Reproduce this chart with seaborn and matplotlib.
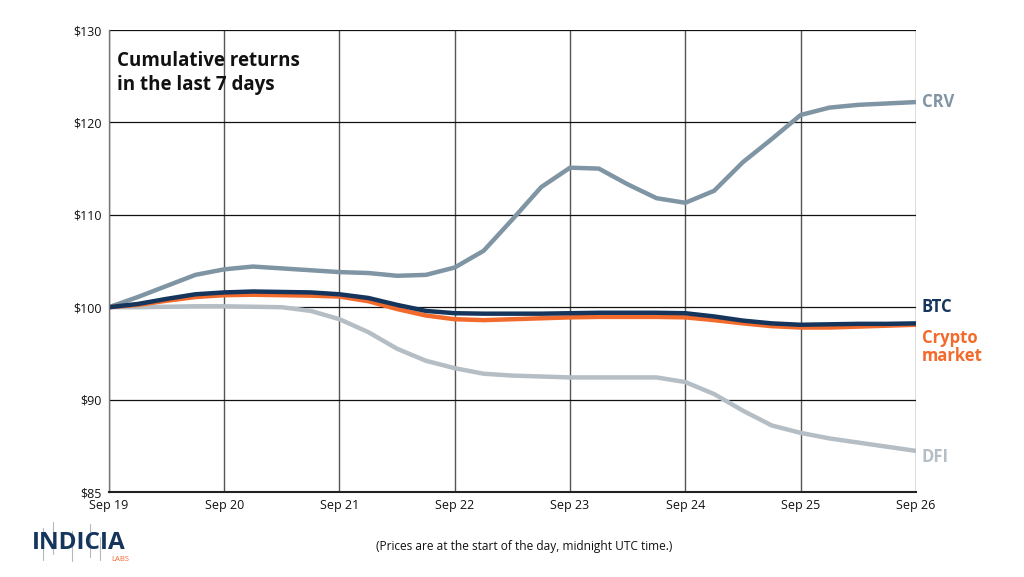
import numpy as np
import pandas as pd
import seaborn as sns
import matplotlib
import matplotlib.pyplot as plt
from matplotlib.lines import Line2D
matplotlib.use('Agg')

sns.set_theme(style="whitegrid")
plt.rcParams['font.family'] = ['Open Sans', 'DejaVu Sans']

# days since Sep 19, read every quarter day off the chart
days = [0, 0.25, 0.5, 0.75, 1, 1.25, 1.5, 1.75, 2, 2.25, 2.5, 2.75, 3, 3.25, 3.5, 3.75,
        4, 4.25, 4.5, 4.75, 5, 5.25, 5.5, 5.75, 6, 6.25, 6.5, 6.75, 7]
day_labels = ['Sep 19', 'Sep 20', 'Sep 21', 'Sep 22', 'Sep 23', 'Sep 24', 'Sep 25', 'Sep 26']
crv = [100.0, 101.1, 102.3, 103.5, 104.1, 104.4, 104.2, 104.0, 103.8, 103.7, 103.4, 103.5, 104.3, 106.1, 109.5, 113.0,
       115.1, 115.0, 113.3, 111.8, 111.3, 112.6, 115.7, 118.2, 120.8, 121.6, 121.9, 122.05, 122.2]
btc = [100.0, 100.35, 100.9, 101.4, 101.6, 101.7, 101.65, 101.6, 101.4, 101.0, 100.25, 99.6, 99.35, 99.3, 99.3, 99.3,
       99.35, 99.4, 99.4, 99.4, 99.35, 99.0, 98.55, 98.25, 98.1, 98.15, 98.2, 98.2, 98.25]
crypto = [100.0, 100.25, 100.7, 101.1, 101.3, 101.35, 101.3, 101.25, 101.15, 100.65, 99.8, 99.1, 98.7, 98.6, 98.7, 98.8,
          98.9, 98.95, 98.95, 98.95, 98.9, 98.6, 98.25, 97.95, 97.8, 97.8, 97.9, 98.0, 98.1]
dfi = [100.0, 100.0, 100.05, 100.1, 100.1, 100.05, 100.0, 99.6, 98.7, 97.3, 95.5, 94.2, 93.4, 92.8, 92.6, 92.5,
       92.4, 92.4, 92.4, 92.4, 91.9, 90.6, 88.8, 87.2, 86.4, 85.8, 85.35, 84.9, 84.45]
y_ticks = [80, 90, 100, 110, 120, 130]
y_labels = ['$85', '$90', '$100', '$110', '$120', '$130']

n = len(days)
df = pd.DataFrame({'day': days * 4,
                   'value': crv + dfi + crypto + btc,
                   'asset': ['CRV'] * n + ['DFI'] * n + ['Crypto'] * n + ['BTC'] * n})
palette = {'CRV': '#8095a3', 'DFI': '#b5bec4', 'Crypto': '#f26a2c', 'BTC': '#15355c'}

fig = plt.figure(figsize=(10.24, 5.77), dpi=100)
ax = fig.add_axes([0.1064, 0.1473, 0.788, 0.8007])
sns.lineplot(data=df, x='day', y='value', hue='asset', palette=palette, linewidth=3.2,
             legend=False, ax=ax, solid_capstyle='round', solid_joinstyle='round', sort=False)

ax.set_xlim(0, 7)
ax.set_ylim(80, 130)
ax.set_xticks(range(8))
ax.set_xticklabels(day_labels, fontsize=9)
ax.set_yticks(y_ticks)
ax.set_yticklabels(y_labels, fontsize=9)
ax.set_xlabel('')
ax.set_ylabel('')
ax.tick_params(length=0, pad=5, colors='#111111')
ax.grid(axis='y', color='#111111', linewidth=0.9)
ax.grid(axis='x', color='#555555', linewidth=1.0)
ax.set_axisbelow(True)
for side in ['top', 'right']:
    ax.spines[side].set_visible(False)
ax.spines['left'].set_color('#777777')
ax.spines['left'].set_linewidth(1.0)
ax.spines['bottom'].set_color('#222222')
ax.spines['bottom'].set_linewidth(1.5)

ax.text(0.07, 127.7, 'Cumulative returns\nin the last 7 days', fontsize=13.5, fontweight='bold',
        va='top', ha='left', linespacing=1.25, color='#111111')

ax.text(7.05, crv[-1], 'CRV', color='#8095a3', fontsize=12, fontweight='bold', va='center')
ax.text(7.05, btc[-1] + 1.8, 'BTC', color='#15355c', fontsize=12, fontweight='bold', va='center')
ax.text(7.05, crypto[-1] - 2.4, 'Crypto\nmarket', color='#f26a2c', fontsize=12, fontweight='bold',
        va='center', linespacing=1.0)
ax.text(7.05, dfi[-1] - 0.7, 'DFI', color='#b5bec4', fontsize=12, fontweight='bold', va='center')

fig.text(0.6562, 0.052, '(Prices are at the start of the day, midnight UTC time.)', fontsize=8.6,
         ha='right', va='center', color='#111111', fontstretch='semi-condensed')

# logo
for lx, y0, y1 in [(0.042, 0.030, 0.085), (0.052, 0.040, 0.095), (0.070, 0.028, 0.080),
                   (0.088, 0.035, 0.092), (0.098, 0.030, 0.070)]:
    fig.add_artist(Line2D([lx, lx], [y0, y1], transform=fig.transFigure, color='#b0b8c0', linewidth=0.8))
fig.text(0.031, 0.059, 'INDICIA', fontsize=17.5, fontweight='bold', color='#15355c',
         ha='left', va='center')
fig.text(0.1085, 0.031, 'LABS', fontsize=5.5, color='#f26a2c', ha='left', va='center')

fig.savefig('out.png', dpi=100, facecolor='white')
